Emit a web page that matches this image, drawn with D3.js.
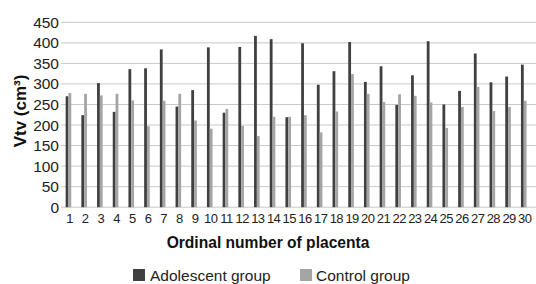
<!DOCTYPE html>
<html><head><meta charset="utf-8">
<script src="https://cdn.jsdelivr.net/npm/d3@7"></script>
<style>body{margin:0;background:#fff}svg{display:block;font-family:"Liberation Sans",Arial,sans-serif}</style>
</head><body><svg id="c" width="536" height="284"></svg>
<script>
const categories = d3.range(1, 31).map(String);
const adolescent = [270,224,302,232,336,338,384,245,285,389,230,390,417,409,219,399,298,331,402,305,343,249,321,404,250,283,374,304,318,347];
const control = [278,276,272,276,260,197,259,276,211,191,239,198,173,220,220,224,182,233,324,276,256,275,271,255,193,244,293,234,244,259];
const yTicks = [0,50,100,150,200,250,300,350,400,450];
const seriesNames = ["Adolescent group","Control group"];
const colors = ["#404040","#a5a5a5"];

const svg = d3.select("#c");
const x = d3.scaleBand().domain(categories).range([60.6, 531.6]);
const y = d3.scaleLinear().domain([0,450]).range([207.2, 22.3]);

svg.append("g").selectAll("line").data(yTicks).join("line")
  .attr("x1", 61).attr("x2", 536)
  .attr("y1", d=>y(d)).attr("y2", d=>y(d))
  .attr("stroke", "#c9c9c9").attr("stroke-width", 1);

svg.append("g").selectAll("text").data(yTicks).join("text")
  .attr("x", 59).attr("y", d=>y(d)+5.5)
  .attr("text-anchor","end").attr("font-size",15.5).attr("fill","#222")
  .text(d=>d);

const bw = 2.8;
const data = [adolescent, control];
data.forEach((vals, si) => {
  svg.append("g").selectAll("rect").data(vals).join("rect")
    .attr("x", (d,i)=> x(categories[i]) + x.bandwidth()/2 - bw + si*bw)
    .attr("width", bw)
    .attr("y", d=>y(d)).attr("height", d=>y(0)-y(d))
    .attr("fill", colors[si]);
});

svg.append("g").selectAll("text").data(categories).join("text")
  .attr("x", d=> x(d)+x.bandwidth()/2+1).attr("y", 222.5)
  .attr("text-anchor","middle").attr("font-size",13).attr("fill","#222")
  .attr("letter-spacing", -0.6)
  .text(d=>d);

svg.append("text").attr("x", 268).attr("y", 247.5).attr("text-anchor","middle")
  .attr("font-size",15.6).attr("font-weight","bold").attr("fill","#111")
  .text("Ordinal number of placenta");

svg.append("text").attr("transform","translate(26,111) rotate(-90)").attr("text-anchor","middle")
  .attr("font-size",17).attr("font-weight","bold").attr("fill","#111")
  .text("Vtv (cm³)");

const leg = [{x:133, tx:150},{x:300, tx:316}];
leg.forEach((l,i)=>{
  svg.append("rect").attr("x", l.x).attr("y", 269).attr("width",12).attr("height",12).attr("fill",colors[i]);
  svg.append("text").attr("x", l.tx).attr("y", 280.5).attr("font-size",15.5).attr("fill","#222").text(seriesNames[i]);
});
</script></body></html>
